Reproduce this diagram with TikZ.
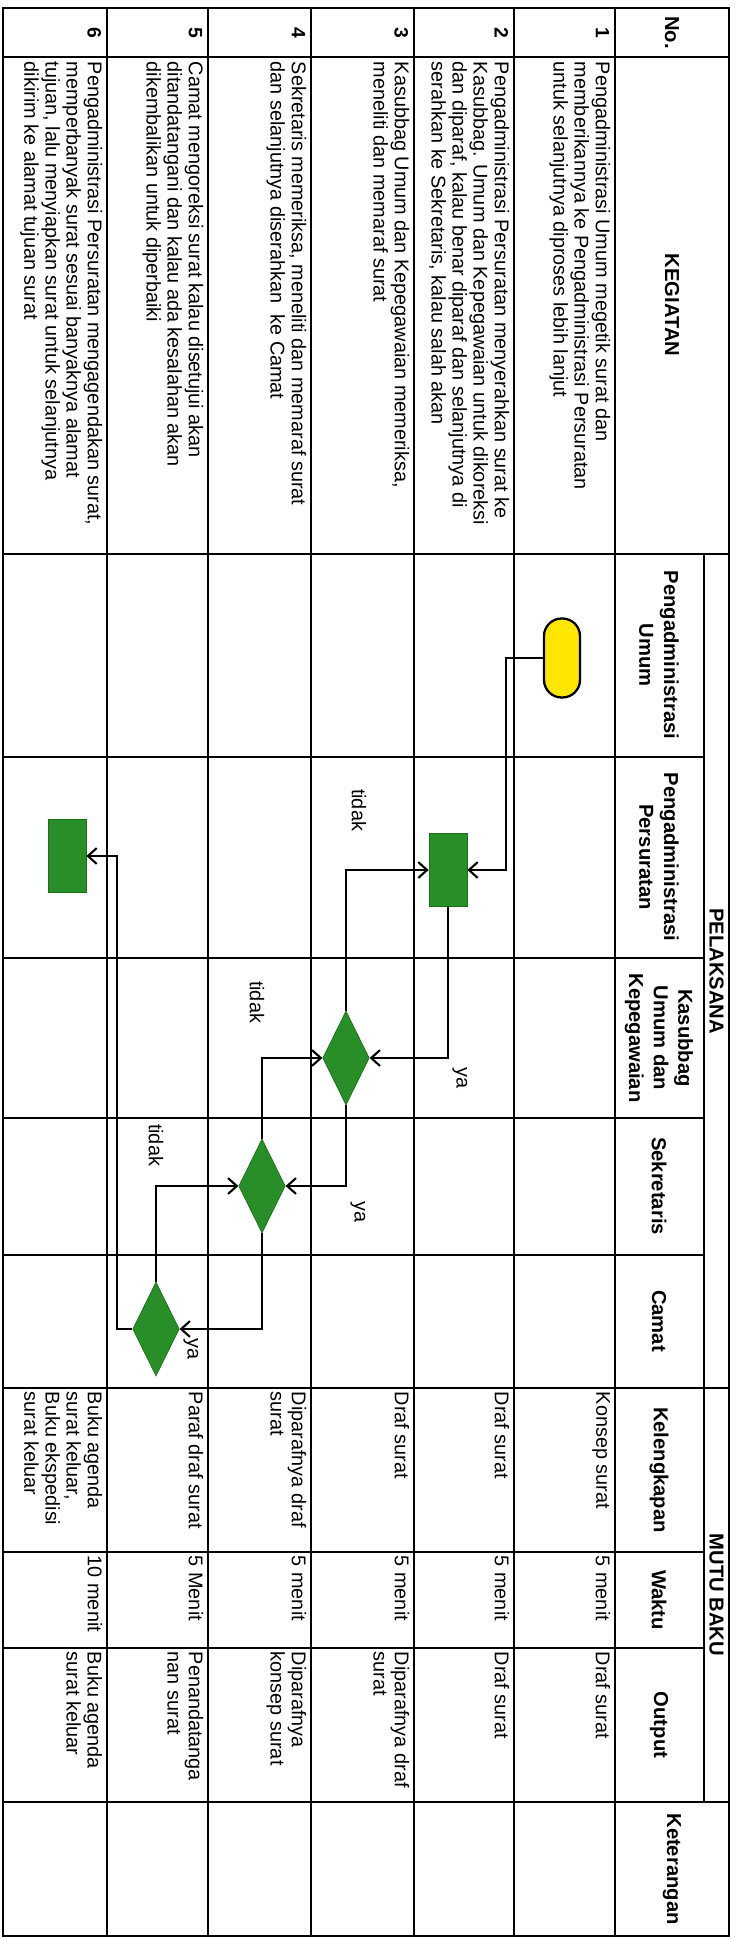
\documentclass[tikz,border=0pt]{standalone}
\usepackage{fontspec}
\setmainfont{Liberation Sans}
\usetikzlibrary{shapes.geometric,arrows.meta}
\definecolor{flowgreen}{RGB}{40,142,40}
\definecolor{flowgreendk}{RGB}{28,112,28}
\definecolor{termyellow}{RGB}{255,230,0}
\tikzset{
  tline/.style ={line width=1pt},
  tframe/.style={line width=1.6pt},
  hd/.style    ={font=\fontsize{11.5}{14}\selectfont\bfseries, align=center, inner sep=1pt},
  num/.style   ={font=\fontsize{11}{12}\selectfont\bfseries, anchor=north, inner sep=2pt},
  cell/.style  ={font=\fontsize{11.3}{12}\selectfont, anchor=north west, align=left, inner sep=2pt},
  term/.style  ={rectangle, rounded corners=10pt, draw=black, line width=1.3pt, fill=termyellow, minimum width=1.58cm, minimum height=0.72cm},
  proc/.style  ={rectangle, draw=flowgreendk, fill=flowgreen, minimum width=1.46cm, minimum height=0.76cm},
  dec/.style   ={diamond, draw=flowgreendk, fill=flowgreen, minimum width=1.88cm, minimum height=0.93cm, inner sep=0pt},
  e/.style     ={-{Straight Barb[length=5pt,width=9pt]}, line width=1.2pt},
  el/.style    ={font=\fontsize{11.3}{13}\selectfont, inner sep=1pt},
}
\begin{document}
\begin{tikzpicture}
\begin{scope}[rotate=-90, transform shape, x=0.02cm, y=0.02cm]
\useasboundingbox (0,0) rectangle (1939,739);
% table rules
\foreach \c in {57,554,1388,1802} \draw[tline] (\c,3) -- (\c,729);
\foreach \c in {757,958,1118,1255,1552,1648} \draw[tline] (\c,3) -- (\c,704);
\foreach \r in {107,208,311,414,514} \draw[tline] (8,\r) -- (1936,\r);
\draw[tline] (554,704) -- (1802,704);
\draw[line width=1.3pt] (8,615) -- (1936,615);
\draw[tframe] (8,3) rectangle (1936,729);
% header
\node[hd] (hno)   at (32.5,672) {No.};
\node[hd] (hkeg)  at (305,672)  {KEGIATAN};
\node[hd] (hpel)  at (971,716.5) {PELAKSANA};
\node[hd] (hpu)   at (655,659)  {Pengadministrasi\\Umum};
\node[hd] (hpp)   at (857,659)  {Pengadministrasi\\Persuratan};
\node[hd] (hkas)  at (1038,659) {Kasubbag\\Umum dan\\Kepegawaian};
\node[hd] (hsek)  at (1186,659) {Sekretaris};
\node[hd] (hcam)  at (1321,659) {Camat};
\node[hd] (hmutu) at (1595,716.5) {MUTU BAKU};
\node[hd] (hkel)  at (1470,659) {Kelengkapan};
\node[hd] (hwak)  at (1600,659) {Waktu};
\node[hd] (hout)  at (1725,659) {Output};
\node[hd] (hket)  at (1869,672) {Keterangan};
% row 1
\node[num]  (n1) at (32.5,613) {1};
\node[cell] (k1) at (58,614)   {Pengadministrasi Umum megetik surat dan\\memberikannya ke Pengadministrasi Persuratan\\untuk selanjutnya diproses lebih lanjut};
\node[cell] (l1) at (1388,614) {Konsep surat};
\node[cell] (w1) at (1552,614) {5 menit};
\node[cell] (o1) at (1648,614) {Draf surat};
% row 2
\node[num]  (n2) at (32.5,512) {2};
\node[cell] (k2) at (58,513)   {Pengadministrasi Persuratan menyerahkan surat ke\\Kasubbag. Umum dan Kepegawaian untuk dikoreksi\\dan diparaf, kalau benar diparaf dan selanjutnya di\\serahkan ke Sekretaris, kalau salah akan};
\node[cell] (l2) at (1388,513) {Draf surat};
\node[cell] (w2) at (1552,513) {5 menit};
\node[cell] (o2) at (1648,513) {Draf surat};
% row 3
\node[num]  (n3) at (32.5,412) {3};
\node[cell] (k3) at (58,413)   {Kasubbag Umum dan Kepegawaian memeriksa,\\meneliti dan memaraf surat};
\node[cell] (l3) at (1388,413) {Draf surat};
\node[cell] (w3) at (1552,413) {5 menit};
\node[cell] (o3) at (1648,413) {Diparafnya draf\\surat};
% row 4
\node[num]  (n4) at (32.5,309) {4};
\node[cell] (k4) at (58,310)   {Sekretaris memeriksa, meneliti dan memaraf surat\\dan selanjutnya diserahkan\ \ ke Camat};
\node[cell] (l4) at (1388,310) {Diparafnya draf\\surat};
\node[cell] (w4) at (1552,310) {5 menit};
\node[cell] (o4) at (1648,310) {Diparafnya\\konsep surat};
% row 5
\node[num]  (n5) at (32.5,206) {5};
\node[cell] (k5) at (58,207)   {Camat mengoreksi surat kalau disetujui akan\\ditandatangani dan kalau ada kesalahan akan\\dikembalikan untuk diperbaiki};
\node[cell] (l5) at (1388,207) {Paraf draf surat};
\node[cell] (w5) at (1552,207) {5 Menit};
\node[cell] (o5) at (1648,207) {Penandatanga\\nan surat};
% row 6
\node[num]  (n6) at (32.5,105) {6};
\node[cell] (k6) at (58,106)   {Pengadministrasi Persuratan mengagendakan surat,\\memperbanyak surat sesuai banyaknya alamat\\tujuan, lalu menyiapkan surat untuk selanjutnya\\dikirim ke alamat tujuan surat};
\node[cell] (l6) at (1388,106) {Buku agenda\\surat keluar,\\Buku ekspedisi\\surat keluar};
\node[cell] (w6) at (1552,106) {10 menit};
\node[cell] (o6) at (1648,106) {Buku agenda\\surat keluar};
% flow
\node[term] (start) at (658,562) {};
\node[proc] (ppA)   at (870,448) {};
\node[dec]  (dkas)  at (1058,346) {};
\node[dec]  (dsek)  at (1186,262) {};
\node[dec]  (dcam)  at (1329,156) {};
\node[proc] (ppB)   at (856,67) {};
\draw[e] (start.south) -- ++(0,-37) -| (ppA.north);
\draw[e] (ppA.east) -| (dkas.north);
\draw[e] (dkas.west) -| (ppA.south);
\draw[e] (dkas.east) -| (dsek.north);
\draw[e] (dsek.west) -| (dkas.south);
\draw[e] (dsek.east) -| (dcam.north);
\draw[e] (dcam.west) -| (dsek.south);
\draw[e] (dcam.south) -- ++(0,-15) -| (ppB.north);
% branch labels
\node[el] (ya1) at (1078,460) {ya};
\node[el] (ti1) at (810,359)  {tidak};
\node[el] (ya2) at (1212,358) {ya};
\node[el] (ti2) at (1002,257) {tidak};
\node[el] (ya3) at (1349,191) {ya};
\node[el] (ti3) at (1145,156) {tidak};
\end{scope}
\end{tikzpicture}
\end{document}
